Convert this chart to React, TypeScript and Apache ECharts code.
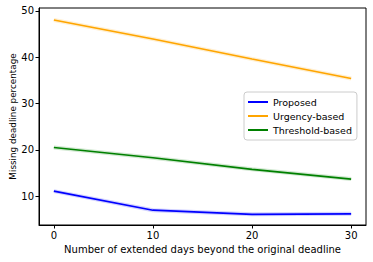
import React, { useEffect, useRef } from "react";
import * as echarts from "echarts";

const days = [0, 10, 20, 30];
const proposed = [11.1, 7.0, 6.1, 6.2];
const urgency = [48.0, 43.9, 39.6, 35.4];
const threshold = [20.5, 18.3, 15.8, 13.7];
const xTicks = [0, 10, 20, 30];
const yTicks = [10, 20, 30, 40, 50];

const FONT = "DejaVu Sans";

function pairs(vals: number[]) {
  return days.map((d, i) => [d, vals[i]]);
}

export default function App() {
  const ref = useRef<HTMLDivElement>(null);
  useEffect(() => {
    if (!ref.current) return;
    const chart = echarts.init(ref.current, undefined, { renderer: "svg" });
    const mk = (name: string, vals: number[], color: string) => [
      {
        name: name + "-band",
        type: "line",
        data: pairs(vals),
        showSymbol: false,
        silent: true,
        lineStyle: { color, width: 4, opacity: 0.18 },
        z: 1,
      },
      {
        name,
        type: "line",
        data: pairs(vals),
        showSymbol: false,
        lineStyle: { color, width: 1.6 },
        itemStyle: { color },
        z: 2,
      },
    ];
    chart.setOption({
      animation: false,
      backgroundColor: "#fff",
      textStyle: { fontFamily: FONT },
      grid: {
        left: 39, right: 7, top: 8, bottom: 37,
        outerBoundsMode: "none",
        containLabel: false,
        show: true, borderColor: "#000", borderWidth: 1, backgroundColor: "transparent",
      },
      xAxis: {
        type: "value",
        min: -1.5,
        max: 31.5,
        name: "Number of extended days beyond the original deadline",
        nameLocation: "middle",
        nameGap: 19,
        nameMoveOverlap: false,
        nameTextStyle: { fontFamily: FONT, fontSize: 10, color: "#000" },
        splitLine: { show: false },
        axisLine: { show: true, onZero: false, lineStyle: { color: "#000", width: 1 } },
        axisTick: { show: true, length: 3.5, customValues: xTicks, lineStyle: { color: "#000" } },
        axisLabel: { customValues: xTicks, fontFamily: FONT, fontSize: 10, color: "#000", margin: 5 },
      },
      yAxis: {
        type: "value",
        min: 3.8,
        max: 50.6,
        name: "Missing deadline percentage",
        nameLocation: "middle",
        nameGap: 22,
        nameMoveOverlap: false,
        nameRotate: 90,
        nameTextStyle: { fontFamily: FONT, fontSize: 8.8, color: "#000" },
        splitLine: { show: false },
        axisLine: { show: true, onZero: false, lineStyle: { color: "#000", width: 1 } },
        axisTick: { show: true, length: 3.5, customValues: yTicks, lineStyle: { color: "#000" } },
        axisLabel: { customValues: yTicks, fontFamily: FONT, fontSize: 10, color: "#000", margin: 5 },
      },
      legend: {
        data: [
          { name: "Proposed", icon: "rect" },
          { name: "Urgency-based", icon: "rect" },
          { name: "Threshold-based", icon: "rect" },
        ],
        orient: "vertical",
        left: 244,
        top: 92,
        itemWidth: 20,
        itemHeight: 2,
        itemGap: 4,
        padding: [5, 5, 5, 4],
        backgroundColor: "rgba(255,255,255,0.85)",
        borderColor: "#ccc",
        borderWidth: 1,
        borderRadius: 3,
        textStyle: { fontFamily: FONT, fontSize: 9.5, color: "#000" },
      },
      series: [
        ...mk("Proposed", proposed, "#0000ff"),
        ...mk("Urgency-based", urgency, "#ffa500"),
        ...mk("Threshold-based", threshold, "#008000"),
      ],
    });
    return () => chart.dispose();
  }, []);
  return <div ref={ref} style={{ width: 373, height: 262, position: "absolute", left: 0, top: 0 }} />;
}
